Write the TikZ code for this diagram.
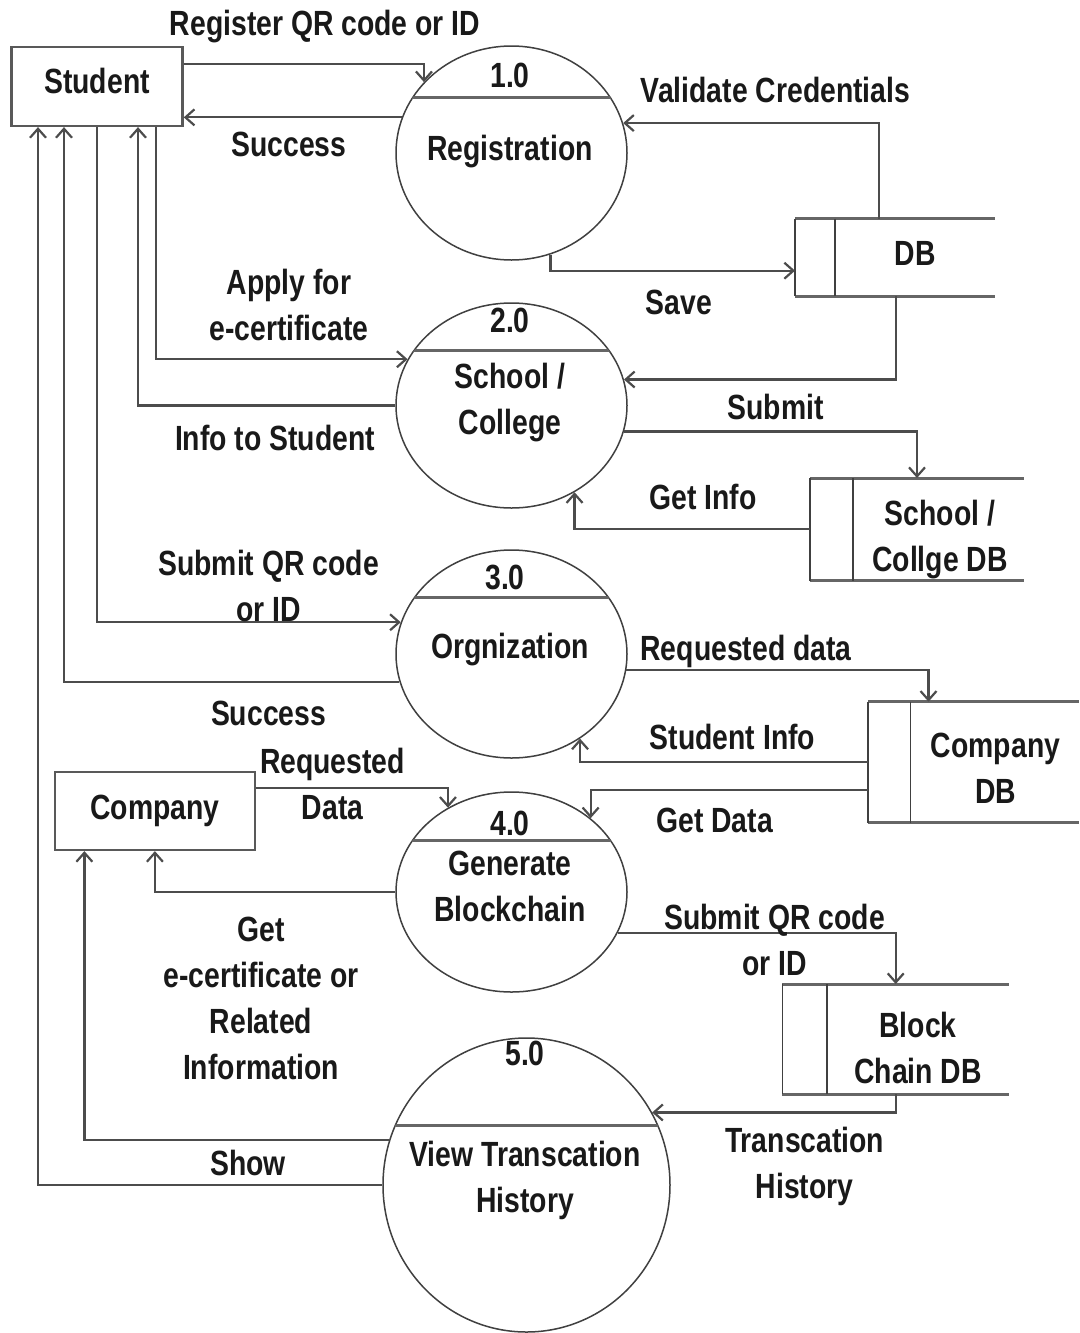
\documentclass[tikz,border=0pt]{standalone}
\usepackage{fontspec}
\setmainfont{Liberation Sans}[BoldFeatures={FakeStretch=0.81},UprightFeatures={FakeStretch=0.86}]
\usetikzlibrary{shapes.geometric,arrows.meta}
\begin{document}
\begin{tikzpicture}[x=1pt,y=-1pt,
  every node/.style={font=\fontsize{35}{46}\selectfont\bfseries, inner sep=0pt, text=black!90},
  lbl/.style={align=center},
  proc/.style={ellipse, draw=black!75, line width=1.5pt, minimum width=231pt, inner sep=0pt},
  ent/.style={rectangle, draw=black!65, line width=2.5pt},
  store/.style={rectangle, inner sep=0pt, outer sep=0pt},
  storeh/.style={draw=black!60, line width=3pt},
  storev/.style={draw=black!75, line width=1.6pt},
  divider/.style={draw=black!60, line width=3pt},
  flow/.style={draw=black!70, line width=2.2pt},
  arr/.style={flow, -{Straight Barb[length=9pt,width=16pt]}}]
\useasboundingbox[fill=white] (0,0) rectangle (1079,1333);

% external entities
\node[ent, minimum width=171pt, minimum height=79pt, text depth=12pt] (student) at (97,86.35) {Student};
\node[ent, minimum width=200pt, minimum height=78pt] (company) at (154.9,810.85) {Company};

% processes
\node[proc, minimum height=214pt] (p1) at (511.5,153) {};
\node[proc, minimum height=205pt] (p2) at (511.5,405.5) {};
\node[proc, minimum height=208pt] (p3) at (511.5,654) {};
\node[proc, minimum height=200pt] (p4) at (511.5,892) {};
\node[proc, minimum width=287pt, minimum height=294pt] (p5) at (526.5,1185) {};

\begin{scope}\clip (p1.center) ellipse [x radius=115.5pt, y radius=107pt];
\draw[divider] (380,97) -- (650,97);\end{scope}
\begin{scope}\clip (p2.center) ellipse [x radius=115.5pt, y radius=102.5pt];
\draw[divider] (380,350) -- (650,350);\end{scope}
\begin{scope}\clip (p3.center) ellipse [x radius=115.5pt, y radius=104pt];
\draw[divider] (380,597) -- (650,597);\end{scope}
\begin{scope}\clip (p4.center) ellipse [x radius=115.5pt, y radius=100pt];
\draw[divider] (380,840) -- (650,840);\end{scope}
\begin{scope}\clip (p5.center) ellipse [x radius=143.5pt, y radius=147pt];
\draw[divider] (370,1125) -- (690,1125);\end{scope}

\node (p1n) at (510,75) {1.0};
\node (p1t) at (510,152) {Registration};
\node (p2n) at (510,320) {2.0};
\node[lbl] (p2t) at (510,402.5) {School /\\College};
\node (p3n) at (505,577) {3.0};
\node (p3t) at (510,650) {Orgnization};
\node (p4n) at (510,823) {4.0};
\node[lbl] (p4t) at (510,886.5) {Generate\\Blockchain};
\node (p5n) at (525,1053) {5.0};
\node[lbl] (p5t) at (525,1180.5) {View Transcation\\History};

% data stores
\node[store, minimum width=200pt, minimum height=77.5pt] (db) at (895,257.25) {};
\node[store, minimum width=214pt, minimum height=102.5pt] (sdb) at (917,529.25) {};
\node[store, minimum width=211pt, minimum height=121pt] (cdb) at (973.5,762.2) {};
\node[store, minimum width=226.6pt, minimum height=110pt] (bdb) at (895.7,1039) {};
\foreach \s/\d in {db/40, sdb/43, cdb/42.6, bdb/44.6}{
  \draw[storeh] (\s.north west) -- (\s.north east);
  \draw[storeh] (\s.south west) -- (\s.south east);
  \draw[storev] (\s.north west) -- (\s.south west);
  \draw[storev] ([xshift=\d pt]\s.north west) -- ([xshift=\d pt]\s.south west);
}
\node (dbt) at (915,253) {DB};
\node[lbl] (sdbt) at (940,540) {School /\\Collge DB};
\node[lbl] (cdbt) at (995.5,768.4) {Company\\DB};
\node[lbl] (bdbt) at (918,1048.4) {Block\\Chain DB};

% flows
\draw[arr] ([yshift=22pt]student.east) -| (p1.141.7);
\draw[arr] (p1.162.4) -- (p1.162.4 -| student.east);
\draw[arr] ([xshift=-16.4pt]db.north) |- (p1.15.7);
\draw[arr] (p1.291.4) |- ([yshift=-13.45pt]db.west);
\draw[arr] ([xshift=59pt]student.south) |- (p2.156.3);
\draw[arr] (p2.west) -| ([xshift=41pt]student.south);
\draw[arr] ([xshift=1pt]db.south) |- (p2.13.6);
\draw[arr] (p2.-13.9) -| (sdb.north);
\draw[arr] (sdb.west) -| (p2.306.8);
\draw[arr] (student.south) |- (p3.164.8);
\draw[arr] (p3.194.65) -| ([xshift=-33pt]student.south);
\draw[arr] (p3.-8.3) -| ([xshift=-45pt]cdb.north);
\draw[arr] (cdb.west) -| (p3.-51.04);
\draw[arr] ([yshift=-27.8pt]cdb.west) -| (p4.43.06);
\draw[arr] ([yshift=22.85pt]company.east) -| (p4.127.85);
\draw[arr] (p4.west) -| (company.south);
\draw[arr] (p4.-21.27) -| (bdb.north);
\draw[arr] (bdb.south) |- (p5.30.97);
\draw[arr] (p5.162.46) -| ([xshift=-70.5pt]company.south);
\draw[arr] (p5.west) -| ([xshift=-59pt]student.south);

% flow labels
\node (l1) at (325,27) {Register QR code or ID};
\node (l2) at (289,144) {Success};
\node (l3) at (775.5,90) {Validate Credentials};
\node (l4) at (679,302) {Save};
\node[lbl] (l5) at (289,305) {Apply for\\e-certificate};
\node (l6) at (275,438) {Info to Student};
\node (l7) at (775.5,407) {Submit};
\node (l8) at (703,497) {Get Info};
\node[lbl] (l9) at (268.6,585.5) {Submit QR code\\or ID};
\node (l10) at (268.6,713) {Success};
\node (l11) at (746,651.7) {Requested data};
\node (l12) at (732.5,736.7) {Student Info};
\node (l13) at (714.5,820) {Get Data};
\node[lbl] (l14) at (332.5,784) {Requested\\Data};
\node[lbl] (l15) at (261,998.3) {Get\\e-certificate or\\Related\\Information};
\node[lbl] (l16) at (774.6,940) {Submit QR code\\or ID};
\node[lbl] (l17) at (804.7,1166.5) {Transcation\\History};
\node (l18) at (248,1163) {Show};
\end{tikzpicture}
\end{document}
